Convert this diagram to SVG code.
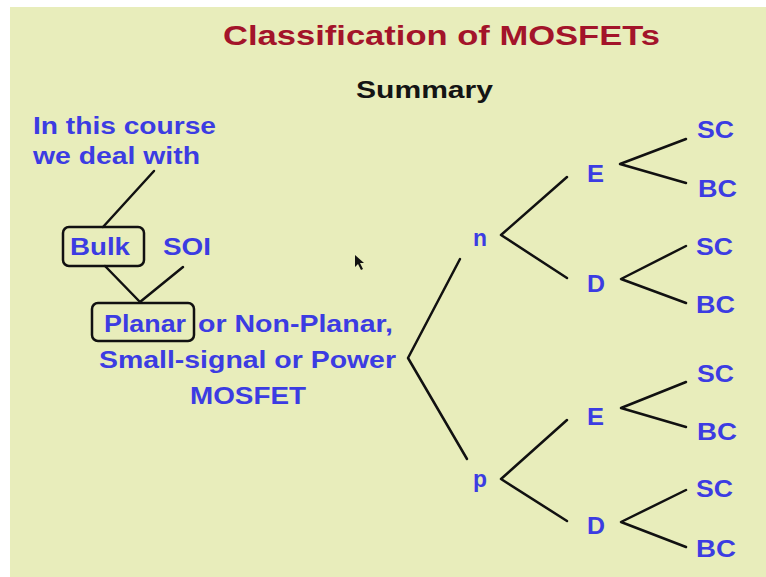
<svg xmlns="http://www.w3.org/2000/svg" width="766" height="577" viewBox="0 0 766 577">
<style>
text{font-family:"Liberation Sans",Arial,sans-serif;font-weight:bold;lengthAdjust:spacingAndGlyphs}
.b{fill:#3c3ce2;font-size:23px}
.t{fill:#a3142a;font-size:28px}
.s{fill:#141414;font-size:24px}
.ln{stroke:#111;stroke-width:2.5;fill:none;stroke-linecap:round;stroke-linejoin:round}
.box{stroke:#111;stroke-width:2.5;fill:none}
</style>
<rect x="0" y="0" width="766" height="577" fill="#ffffff"/>
<rect x="10" y="7" width="756" height="570" fill="#e8edbb"/>
<g id="title"><text class="t" x="223" y="45" textLength="437" lengthAdjust="spacingAndGlyphs">Classification of MOSFETs</text></g>
<g id="summary"><text class="s" x="356" y="98" textLength="137" lengthAdjust="spacingAndGlyphs">Summary</text></g>
<g id="intro">
<text class="b" x="33" y="134" textLength="183" lengthAdjust="spacingAndGlyphs">In this course</text>
<text class="b" x="33" y="164" textLength="167" lengthAdjust="spacingAndGlyphs">we deal with</text>
</g>
<g id="bulk"><rect class="box" x="63" y="227" width="81" height="39" rx="6"/><text class="b" x="70" y="255" textLength="60" lengthAdjust="spacingAndGlyphs">Bulk</text></g>
<g id="soi"><text class="b" x="163" y="255" textLength="48" lengthAdjust="spacingAndGlyphs">SOI</text></g>
<g id="planar"><rect class="box" x="92" y="303" width="102" height="38" rx="6"/><text class="b" x="104" y="332" textLength="82" lengthAdjust="spacingAndGlyphs">Planar</text>
<text class="b" x="198" y="332" textLength="195" lengthAdjust="spacingAndGlyphs">or Non-Planar,</text>
<text class="b" x="99" y="368" textLength="297" lengthAdjust="spacingAndGlyphs">Small-signal or Power</text>
<text class="b" x="190" y="404" textLength="116" lengthAdjust="spacingAndGlyphs">MOSFET</text>
</g>
<g id="n"><text class="b" x="473" y="246" textLength="14" lengthAdjust="spacingAndGlyphs">n</text></g>
<g id="p"><text class="b" x="473" y="487" textLength="14" lengthAdjust="spacingAndGlyphs">p</text></g>
<g id="nE"><text class="b" x="587" y="182" textLength="17" lengthAdjust="spacingAndGlyphs">E</text></g>
<g id="nD"><text class="b" x="587" y="292" textLength="18" lengthAdjust="spacingAndGlyphs">D</text></g>
<g id="pE"><text class="b" x="587" y="425" textLength="17" lengthAdjust="spacingAndGlyphs">E</text></g>
<g id="pD"><text class="b" x="587" y="534" textLength="18" lengthAdjust="spacingAndGlyphs">D</text></g>
<g id="nESC"><text class="b" x="697" y="138" textLength="37" lengthAdjust="spacingAndGlyphs">SC</text></g>
<g id="nEBC"><text class="b" x="698" y="197" textLength="39" lengthAdjust="spacingAndGlyphs">BC</text></g>
<g id="nDSC"><text class="b" x="696" y="255" textLength="37" lengthAdjust="spacingAndGlyphs">SC</text></g>
<g id="nDBC"><text class="b" x="696" y="313" textLength="39" lengthAdjust="spacingAndGlyphs">BC</text></g>
<g id="pESC"><text class="b" x="697" y="382" textLength="37" lengthAdjust="spacingAndGlyphs">SC</text></g>
<g id="pEBC"><text class="b" x="697" y="440" textLength="40" lengthAdjust="spacingAndGlyphs">BC</text></g>
<g id="pDSC"><text class="b" x="696" y="497" textLength="37" lengthAdjust="spacingAndGlyphs">SC</text></g>
<g id="pDBC"><text class="b" x="696" y="557" textLength="40" lengthAdjust="spacingAndGlyphs">BC</text></g>
<g id="connectors">
<path class="ln" d="M154,171 L103,227"/>
<path class="ln" d="M105,266 L140,302 L183,267"/>
<path class="ln" d="M460,259 L408,358 L467,459"/>
<path class="ln" d="M567,177 L501,235 L567,278"/>
<path class="ln" d="M567,420 L501,479 L567,521"/>
<path class="ln" d="M686,139 L620,164 L686,183"/>
<path class="ln" d="M686,246 L621,279 L686,303"/>
<path class="ln" d="M686,382 L621,408 L686,427"/>
<path class="ln" d="M686,490 L621,522 L686,547"/>
</g>
<polygon points="355,255 355,267 358,264 361,270 363,269 360,263 364,263" fill="#111"/>
</svg>
